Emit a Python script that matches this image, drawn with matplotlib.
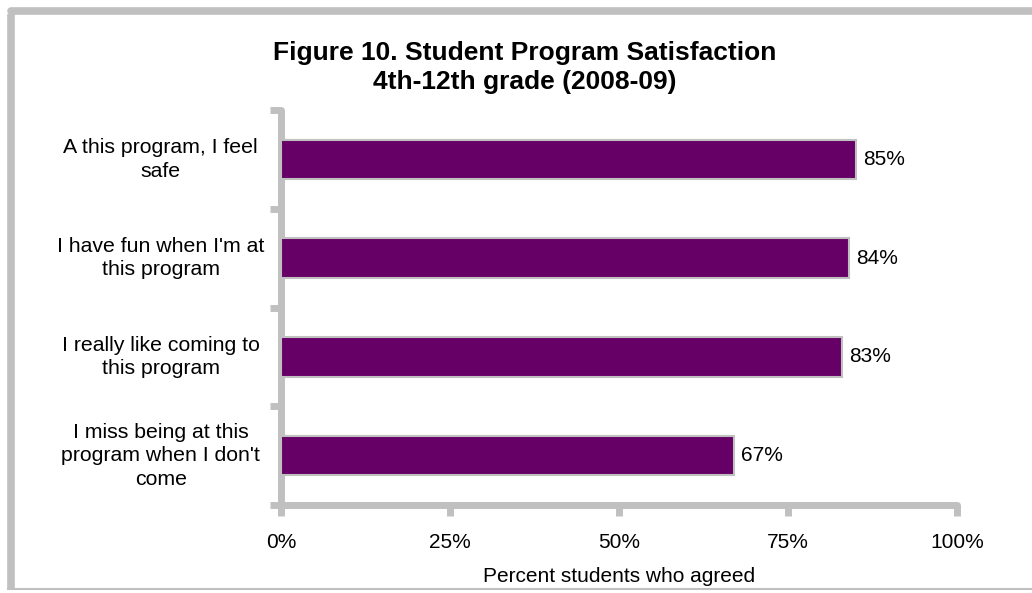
import matplotlib.pyplot as plt
from matplotlib.lines import Line2D

plt.rcParams['font.family'] = ['Liberation Sans', 'DejaVu Sans']

statements = ["A this program, I feel\nsafe",
              "I have fun when I'm at\nthis program",
              "I really like coming to\nthis program",
              "I miss being at this\nprogram when I don't\ncome"]
agreed = [85, 84, 83, 67]
x_ticks = [0, 25, 50, 75, 100]

grey = '#c0c0c0'
purple = '#660066'
fs = 15

fig = plt.figure(figsize=(10.32, 5.93), dpi=100)
ax = fig.add_axes([281 / 1032, 1 - 505 / 593, 676 / 1032, 395 / 593])

pos = list(range(len(statements)))
ax.barh(pos, agreed, height=0.4, color=purple, edgecolor=grey, linewidth=1.5, zorder=3)
for p, v in zip(pos, agreed):
    ax.text(v + 1.1, p, f'{v}%', va='center', ha='left', fontsize=fs)

ax.set_xlim(0, 100)
ax.set_ylim(len(statements) - 0.5, -0.5)
ax.set_xticks(x_ticks)
ax.set_xticklabels([f'{t}%' for t in x_ticks], fontsize=fs)
ax.set_yticks([i - 0.5 for i in range(len(statements) + 1)])
ax.set_yticklabels([])
for p, s in zip(pos, statements):
    ax.text(-0.178, p, s, ha='center', va='center', fontsize=15.3, linespacing=1.3,
            transform=ax.get_yaxis_transform(), multialignment='center')
ax.tick_params(axis='y', length=8, width=5, color=grey)
ax.tick_params(axis='x', length=8, width=5, color=grey, pad=12)

for side in ['top', 'right']:
    ax.spines[side].set_visible(False)
for side in ['left', 'bottom']:
    ax.spines[side].set_color(grey)
    ax.spines[side].set_linewidth(5)
    ax.spines[side].set_capstyle('round')

ax.set_xlabel('Percent students who agreed', fontsize=fs, labelpad=11)

fig.text(0.508, 0.886, 'Figure 10. Student Program Satisfaction\n4th-12th grade (2008-09)',
         ha='center', va='center', fontsize=19, fontweight='bold', linespacing=1.25)

# outer frame
fig.add_artist(Line2D([10.5 / 1032, 10.5 / 1032], [4 / 593, 1 - 14 / 593], transform=fig.transFigure,
                      color=grey, lw=5.5, solid_capstyle='butt'))
fig.add_artist(Line2D([10.5 / 1032, 1.0], [1 - 11 / 593, 1 - 11 / 593], transform=fig.transFigure,
                      color=grey, lw=5.5, solid_capstyle='round'))
fig.add_artist(Line2D([8 / 1032, 1], [4 / 593, 4 / 593], transform=fig.transFigure,
                      color=grey, lw=1.5))

fig.savefig('out.png', dpi=100)
